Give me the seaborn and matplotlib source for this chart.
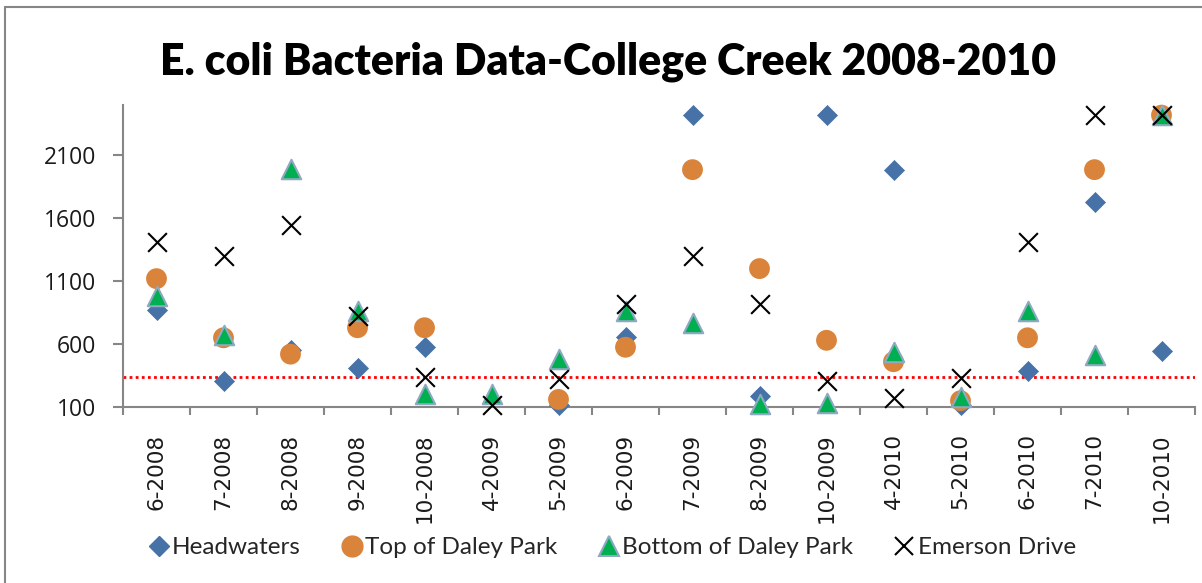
import numpy as np
import pandas as pd
import matplotlib
matplotlib.use("Agg")
import matplotlib.pyplot as plt
import seaborn as sns
from matplotlib.lines import Line2D

# ---------------- data ----------------
categories = ["6-2008", "7-2008", "8-2008", "9-2008", "10-2008", "4-2009", "5-2009",
              "6-2009", "7-2009", "8-2009", "10-2009", "4-2010", "5-2010", "6-2010",
              "7-2010", "10-2010"]
headwaters = [870, 310, 550, 410, 580, np.nan, 115, 660, 2419.6, 190, 2419.6, 1986.3,
              115, 390, 1730, 545]
top_daley = [1120, 650, 520, 730, 730, np.nan, 160, 575, 1986.3, 1200, 630, 460,
             150, 650, 1986.3, 2419.6]
bottom_daley = [980, 670, 1990, 860, 200, 200, 480, 860, 770, 120, 135, 540,
                177, 860, 510, 2419.6]
emerson = [1410, 1300, 1550, 820, 340, 115, 320, 920, 1300, 920, 305, 170,
           330, 1410, 2419.6, 2419.6]
standard = 340
y_ticks = [100, 600, 1100, 1600, 2100]
series_names = ["Headwaters", "Top of Daley Park", "Bottom of Daley Park", "Emerson Drive"]
title = "E. coli Bacteria Data-College Creek 2008-2010"

# ---------------- style ----------------
sns.set_theme(style="white")
plt.rcParams["font.family"] = ["Lato", "DejaVu Sans"]

fig = plt.figure(figsize=(12.02, 5.83), dpi=100)
ax = fig.add_axes([123 / 1202, 1 - 407 / 583, (1195 - 123) / 1202, (407 - 105) / 583])

gray = "#868686"
styles = [
    dict(marker="D", s=10.2 ** 2, color="#4672A8", edgecolor="#4672A8", linewidth=0.5),
    dict(marker="o", s=15 ** 2, color="#DA843B", edgecolor="none", linewidth=0),
    dict(marker="^", s=14 ** 2, color="#00B050", edgecolor="#8EA9C1", linewidth=1.5),
    dict(marker="x", s=13.5 ** 2, color="black", linewidth=1.5),
]
data = [headwaters, top_daley, bottom_daley, emerson]

for name, vals, st in zip(series_names, data, styles):
    df = pd.DataFrame({"cat": categories, "val": vals})
    sns.scatterplot(data=df, x="cat", y="val", ax=ax, legend=False, zorder=3,
                    clip_on=False, **st)

ax.axhline(standard, color="#FF0000", linestyle=(0, (1, 1.2)), linewidth=2.0, zorder=2)

ax.set_xlim(-0.5, len(categories) - 0.5)
ax.set_ylim(100, 2500)
ax.set_yticks(y_ticks)
ax.set_yticklabels([str(v) for v in y_ticks], fontsize=16.5, family=["Open Sans", "DejaVu Sans"],
                   color="#1a1a1a")
ax.set_xticks(range(len(categories)))
ax.set_xticklabels(categories, rotation=90, fontsize=15.5, family="DejaVu Sans", color="#1a1a1a")
ax.set_xticks(np.arange(-0.5, len(categories), 1.0), minor=True)
ax.tick_params(axis="x", which="major", length=0, pad=19)
ax.tick_params(axis="x", which="minor", length=6, width=1.5, color=gray, direction="out", bottom=True)
ax.tick_params(axis="y", which="major", length=7, width=1.5, color=gray, direction="out", pad=12, left=True)
ax.set_xlabel("")
ax.set_ylabel("")

for side in ["top", "right"]:
    ax.spines[side].set_visible(False)
for side in ["left", "bottom"]:
    ax.spines[side].set_color(gray)
    ax.spines[side].set_linewidth(1.5)

fig.text(608 / 1202, 1 - 62 / 583, title, ha="center", va="center",
         fontsize=30.8, fontweight="heavy", color="black")

handles = [
    Line2D([], [], linestyle="none", marker="D", markersize=10.2, color="#4672A8"),
    Line2D([], [], linestyle="none", marker="o", markersize=15, color="#DA843B"),
    Line2D([], [], linestyle="none", marker="^", markersize=14, markerfacecolor="#00B050",
           markeredgecolor="#8EA9C1", markeredgewidth=1.5),
    Line2D([], [], linestyle="none", marker="x", markersize=13.5, color="black", markeredgewidth=1.5),
]
fig.legend(handles, series_names, loc="center", bbox_to_anchor=(613 / 1202, 1 - 547.7 / 583),
           ncol=4, frameon=False, fontsize=17.5, handlelength=0.7, handletextpad=0.2,
           columnspacing=1.75, borderaxespad=0)

# chart border (top and left visible)
fig.add_artist(Line2D([5 / 1202, 1.0], [1 - 7 / 583, 1 - 7 / 583], transform=fig.transFigure,
                      color=gray, linewidth=1.5))
fig.add_artist(Line2D([5 / 1202, 5 / 1202], [0, 1 - 7 / 583], transform=fig.transFigure,
                      color=gray, linewidth=1.5))

fig.savefig("out.png", dpi=100)
